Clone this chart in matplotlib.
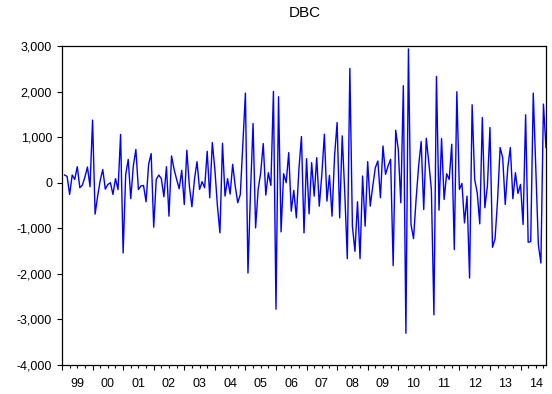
import matplotlib
matplotlib.use("Agg")
import matplotlib.pyplot as plt
import matplotlib.transforms as mtransforms
import numpy as np

plt.rcParams['font.family'] = ['Liberation Sans', 'DejaVu Sans']
plt.rcParams['axes.unicode_minus'] = False

# Monthly changes, 1999M02 .. 2014M11
values = [
    169, 139, -257, 169, 73, 352, -110, -51, 125, 345, -88,
    1373, -690, -290, 50, 290, -140, -40, 0, -257, 90, -150, 1060,
    -1540, 180, 510, -350, 370, 730, -150, -70, -60, -418, 404, 639,
    -976, 73, 169, 88, -308, 352, -734, 587, 294, 73, -132, 272,
    -477, 712, -73, -528, 73, 462, -147, 22, -110, 690, -330, 881,
    300, -500, -1101, 866, -294, 88, -250, 404, -73, -440, -257, 859,
    1967, -1982, -200, 1299, -991, -147, 220, 859, -272, 220, -59, 2004,
    -2775, 1886, -1079, 198, 0, 660, -624, -169, -771, 294, 1013, -1101,
    528, -683, 440, -294, 550, -514, 183, 1064, -404, 161, -734, 587,
    1321, -771, 1028, -220, -1666, 2510, -954, -1505, -418, -1666, 147, -954,
    462, -514, -73, 330, 477, -330, 807, 183, 367, 514, -1820, 1152,
    734, -440, 2128, -3303, 2936, -917, -1226, -367, 367, 903, -587, 976,
    440, -147, -2900, 2334, -602, 969, -367, 198, 73, 844, -1468, 1996,
    -147, -15, -881, -294, -2092, 1710, 73, -220, -903, 1431, -550, -73,
    1211, -1417, -1233, -367, 771, 550, -477, 330, 771, -352, 220, -235,
    -37, -917, 1490, -1306, -1292, 1967, 294, -1358, -1762, 1725, 771,
]
start_year = 1999
first_month = 2  # February
year_labels = ['99', '00', '01', '02', '03', '04', '05', '06', '07',
               '08', '09', '10', '11', '12', '13', '14']
y_ticks = [-4000, -3000, -2000, -1000, 0, 1000, 2000, 3000]

t = start_year + (np.arange(len(values)) + first_month - 1) / 12.0

fig = plt.figure(figsize=(5.52, 3.94), dpi=100)
ax = fig.add_axes([62/552, 1-365/394, (546-62)/552, (365-46)/394])

ax.plot(t, values, color='#0000ff', lw=1.0)

ax.set_xlim(start_year, t[-1])
ax.set_ylim(-4000, 3000)
ax.set_yticks(y_ticks)
ax.set_yticklabels([f"{v:,}" for v in y_ticks], fontsize=9)

years = np.arange(start_year, start_year + len(year_labels) + 1)
ax.set_xticks(years[years <= t[-1]])
ax.set_xticklabels([])
quarters = np.arange(start_year, t[-1] + 1e-9, 0.25)
ax.set_xticks(quarters, minor=True)
ax.tick_params(axis='x', which='major', length=3.6, width=0.8, direction='out')
ax.tick_params(axis='x', which='minor', length=2.2, width=0.8, direction='out')
ax.tick_params(axis='y', which='major', length=3.6, width=0.8, direction='out', pad=3.5)

trans = mtransforms.blended_transform_factory(ax.transData, ax.transAxes)
for i, lab in enumerate(year_labels):
    xc = start_year + i + 0.5
    if xc > t[-1]:
        xc = (start_year + i + t[-1]) / 2
    ax.text(xc, -19/319, lab, transform=trans, ha='center', va='center', fontsize=9)

for s in ax.spines.values():
    s.set_linewidth(0.9)
    s.set_color('black')

fig.text(304.5/552, 1-12.8/394, 'DBC', ha='center', va='center', fontsize=11)

fig.savefig('out.png', dpi=100)
